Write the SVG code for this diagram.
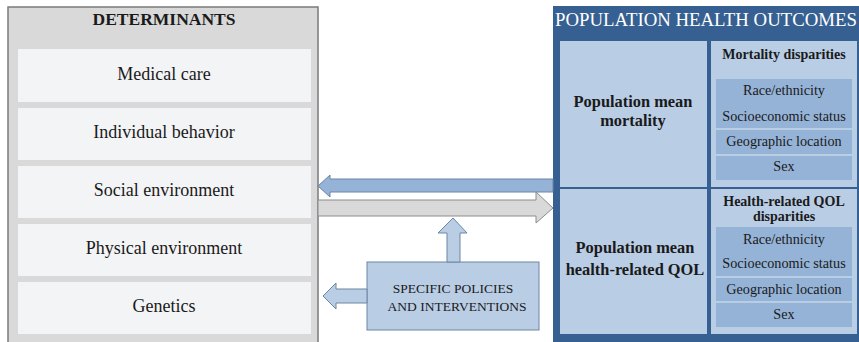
<svg xmlns="http://www.w3.org/2000/svg" width="859" height="342" viewBox="0 0 859 342">
<style>
.t{font-family:"Liberation Serif","Times New Roman",serif;fill:#1a1a1a;text-anchor:middle}
.b{font-weight:bold}
.d{font-size:18px}
.s{font-size:14.2px}
.h{font-size:14px;font-weight:bold}
.p{font-size:16.4px;font-weight:bold}
.det{fill:#f3f4f6}
.cell{fill:#b9cde5}
.sub{fill:#95b3d7}
.sep{stroke:#b9cde5;stroke-width:2}
.arrowB{fill:#95b3d7;stroke:#6d85a3;stroke-width:1}
.arrowG{fill:#d9d9d9;stroke:#8c8c8c;stroke-width:1}
.arrowL{fill:#b9cde5;stroke:#6d85a3;stroke-width:1}
</style>
<rect width="859" height="342" fill="#ffffff"/>
<g id="determinants">
  <rect x="8" y="7" width="310" height="340" fill="#d9d9d9" stroke="#7a7a7a" stroke-width="1.5"/>
  <text class="t b" x="164" y="25" font-size="17.5">DETERMINANTS</text>
</g>
<g id="medical-care">
  <rect class="det" x="18" y="49" width="293" height="53"/>
  <text class="t d" x="164" y="80">Medical care</text>
</g>
<g id="individual-behavior">
  <rect class="det" x="18" y="108" width="293" height="52"/>
  <text class="t d" x="164" y="138">Individual behavior</text>
</g>
<g id="social-environment">
  <rect class="det" x="18" y="166" width="293" height="52"/>
  <text class="t d" x="164" y="196">Social environment</text>
</g>
<g id="physical-environment">
  <rect class="det" x="18" y="224" width="293" height="52"/>
  <text class="t d" x="164" y="254">Physical environment</text>
</g>
<g id="genetics">
  <rect class="det" x="18" y="282" width="293" height="52"/>
  <text class="t d" x="164" y="312">Genetics</text>
</g>
<g id="outcomes">
  <rect x="553" y="6" width="310" height="340" fill="#376092"/>
  <text x="555" y="26" font-size="18.8" font-family="'Liberation Serif','Times New Roman',serif" fill="#ffffff">POPULATION HEALTH OUTCOMES</text>
</g>
<g id="mean-mortality">
  <rect class="cell" x="560" y="41" width="147" height="146"/>
  <text class="t p" x="633" y="107">Population mean</text>
  <text class="t p" x="633" y="126">mortality</text>
</g>
<g id="mortality-disparities">
  <rect class="cell" x="711" y="41" width="146" height="146"/>
  <text class="t h" x="784" y="59">Mortality disparities</text>
  <rect class="sub" x="716" y="79" width="136" height="101"/>
  <line class="sep" x1="716" y1="129" x2="852" y2="129"/>
  <line class="sep" x1="716" y1="155" x2="852" y2="155"/>
  <text class="t s" x="784" y="95">Race/ethnicity</text>
  <text class="t s" x="784" y="121">Socioeconomic status</text>
  <text class="t s" x="784" y="146">Geographic  location</text>
  <text class="t s" x="784" y="171">Sex</text>
</g>
<g id="mean-qol">
  <rect class="cell" x="560" y="189" width="147" height="145"/>
  <text class="t p" x="635" y="253">Population mean</text>
  <text class="t p" x="635" y="275">health-related QOL</text>
</g>
<g id="qol-disparities">
  <rect class="cell" x="711" y="189" width="146" height="145"/>
  <text class="t h" x="784" y="206">Health-related QOL</text>
  <text class="t h" x="784" y="221">disparities</text>
  <rect class="sub" x="716" y="227" width="136" height="100"/>
  <line class="sep" x1="716" y1="277" x2="852" y2="277"/>
  <line class="sep" x1="716" y1="302" x2="852" y2="302"/>
  <text class="t s" x="784" y="244">Race/ethnicity</text>
  <text class="t s" x="784" y="268">Socioeconomic status</text>
  <text class="t s" x="784" y="294">Geographic  location</text>
  <text class="t s" x="784" y="319">Sex</text>
</g>
<g id="policies">
  <rect x="367" y="262" width="172" height="68" fill="#b9cde5" stroke="#6d85a3" stroke-width="1"/>
  <text class="t" x="453" y="293" font-size="13.5">SPECIFIC POLICIES</text>
  <text class="t" x="457" y="311" font-size="13.5">AND INTERVENTIONS</text>
</g>
<g id="connectors">
  <polygon class="arrowB" points="553,179 330,179 330,175 318,186 330,197 330,192 553,192"/>
  <polygon class="arrowG" points="318,200 536,200 536,192 553,208 536,223 536,216 318,216"/>
  <polygon class="arrowL" points="447,262 447,233 438,233 453,218 467,233 460,233 460,262"/>
  <polygon class="arrowL" points="367,289 336,289 336,283 323,296 336,309 336,303 367,303"/>
</g>
</svg>
